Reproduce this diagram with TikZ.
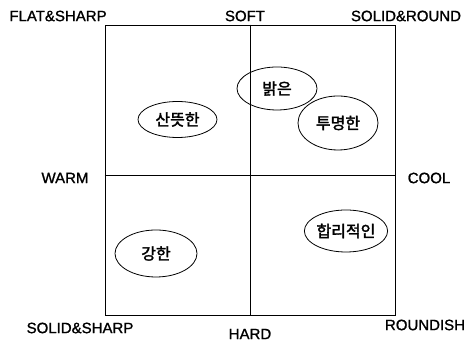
\documentclass[tikz,border=0pt]{standalone}
\usepackage{fontspec}
\setmainfont{Liberation Sans}
\newfontfamily\labfont[FakeBold=1.2]{Liberation Sans}
\newfontfamily\kr[AutoFakeBold=2]{Noto Sans CJK KR}
\usetikzlibrary{shapes.geometric}
\begin{document}
\begin{tikzpicture}[x=1pt,y=1pt,
  lab/.style={font=\labfont\fontsize{15}{16}\selectfont, inner sep=0pt},
  word/.style={draw, ellipse, line width=0.8pt, inner sep=0pt, font=\kr\bfseries\fontsize{16}{17}\selectfont}]
\useasboundingbox (0,0) rectangle (469,344);
% frame and axes
\node[draw, line width=0.7pt, minimum width=290pt, minimum height=290pt, inner sep=0pt] (box) at (250,174) {};
\draw[line width=0.8pt] (box.north) -- (box.south);
\draw[line width=0.8pt] (box.west) ++(0,-5) coordinate (wl) (box.east) ++(0,-5) coordinate (wr);
\draw[line width=0.8pt] (wl) -- (wr);
% labels
\node[lab] (fs) at (58,328) {FLAT\&SHARP};
\node[lab] (soft) at (245,328) {SOFT};
\node[lab] (sr) at (406,328) {SOLID\&ROUND};
\node[lab] (warm) at (65,166) {WARM};
\node[lab] (cool) at (429,166) {COOL};
\node[lab] (ss) at (80,16) {SOLID\&SHARP};
\node[lab] (hard) at (250,10) {HARD};
\node[lab] (rd) at (425,19) {ROUNDISH};
% words
\node[word, minimum width=79pt, minimum height=36pt] (w1) at (177.5,224.5) {산뜻한};
\node[word, minimum width=80pt, minimum height=43pt] (w2) at (277,255.5) {밝은};
\node[word, minimum width=80pt, minimum height=54pt] (w3) at (338,221) {투명한};
\node[word, minimum width=82pt, minimum height=47pt] (w4) at (156,90.5) {강한};
\node[word, minimum width=68pt, minimum height=42pt] (w5) at (346,113) {합리적인};
\end{tikzpicture}
\end{document}
